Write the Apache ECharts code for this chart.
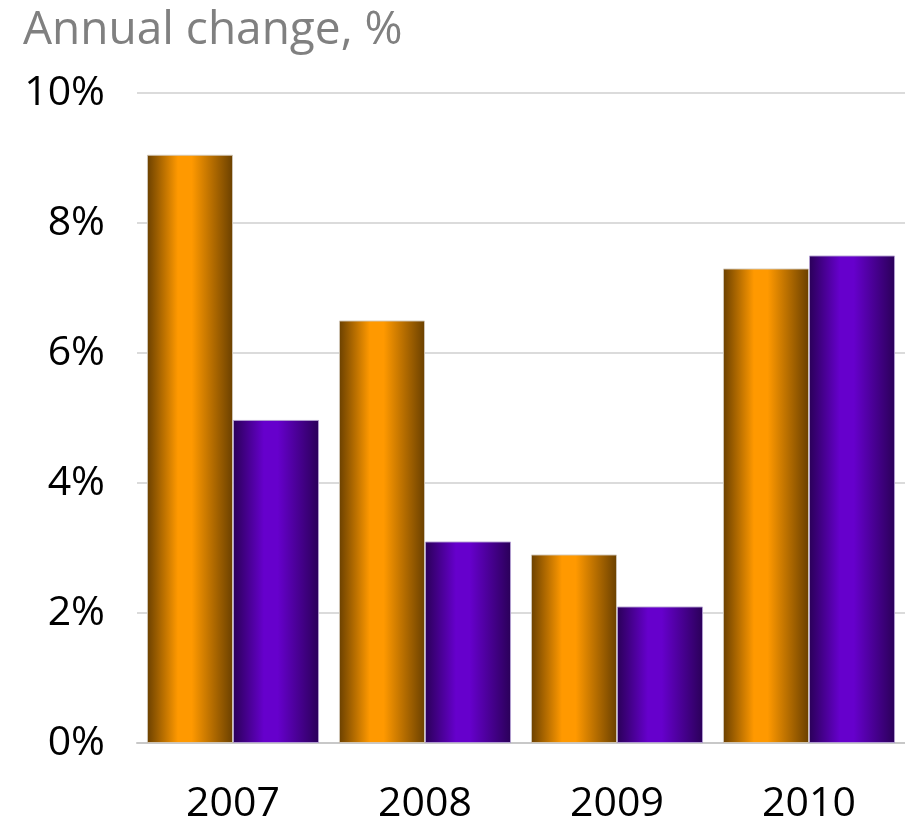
<!DOCTYPE html>
<html><head><meta charset="utf-8">
<script src="https://cdn.jsdelivr.net/npm/echarts@6/dist/echarts.min.js"></script>
<style>html,body{margin:0;padding:0;background:#fff}#c{width:905px;height:826px}</style>
</head><body><div id="c"></div>
<script>
const categories = ['2007', '2008', '2009', '2010'];
const seriesA = [9.05, 6.5, 2.9, 7.3];
const seriesB = [4.97, 3.1, 2.1, 7.5];
const yTicks = [0, 2, 4, 6, 8, 10];

function grad(edge, mid) {
  return new echarts.graphic.LinearGradient(0, 0, 1, 0, [
    {offset: 0, color: edge}, {offset: 0.36, color: mid}, {offset: 0.52, color: mid}, {offset: 1, color: edge}
  ]);
}
const font = '"Open Sans", "Liberation Sans", Arial, sans-serif';
const chart = echarts.init(document.getElementById('c'));
chart.setOption({
  animation: false,
  title: {text: 'Annual change, %', left: 18, top: 3,
    textStyle: {color: '#808080', fontSize: 46, fontWeight: 'normal', fontFamily: font}},
  grid: {left: 137, right: 0, top: 93, bottom: 83},
  xAxis: {type: 'category', data: categories,
    axisLine: {lineStyle: {color: '#c8c8c8', width: 2}}, axisTick: {show: false},
    axisLabel: {color: '#000', fontSize: 41, margin: 41, fontFamily: font}},
  yAxis: {type: 'value', min: yTicks[0], max: yTicks[yTicks.length - 1], interval: 2,
    axisLine: {show: false}, axisTick: {show: false},
    splitLine: {lineStyle: {color: '#cfcfcf', width: 1.5}},
    axisLabel: {color: '#000', fontSize: 41, margin: 32, fontFamily: font, formatter: v => v + '%'}},
  series: [
    {type: 'bar', data: seriesA, barGap: '0%', barCategoryGap: '10.4%',
     itemStyle: {color: grad('#6a4000', '#ff9900'), borderColor: 'rgba(210,200,185,0.9)', borderWidth: 1}},
    {type: 'bar', data: seriesB, barGap: '0%', barCategoryGap: '10.4%',
     itemStyle: {color: grad('#2a0058', '#6600cc'), borderColor: 'rgba(180,160,210,0.9)', borderWidth: 1}}
  ]
});
</script></body></html>
